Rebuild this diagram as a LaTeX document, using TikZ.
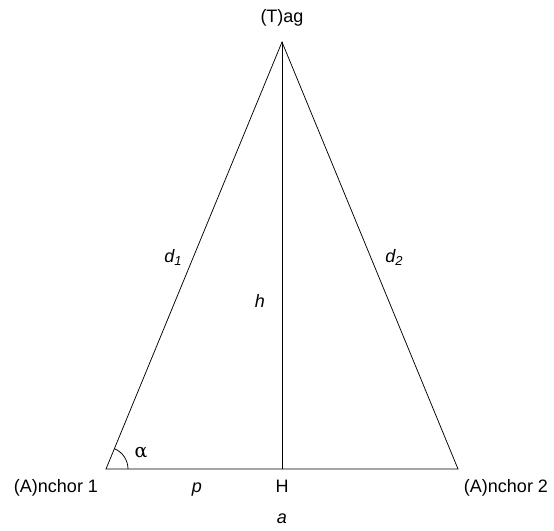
\documentclass[tikz,border=0pt]{standalone}
\usepackage{fontspec}
\setmainfont{Liberation Sans}
\newfontfamily\grfont{DejaVu Serif}
\begin{document}
\begin{tikzpicture}[x=1pt,y=-1pt,
  lbl/.style={inner sep=0pt,anchor=base,font=\fontsize{18}{20}\selectfont},
  edge/.style={draw=black,line width=0.75pt}]
\useasboundingbox (0,0) rectangle (554,530);
\coordinate (T) at (282,42);
\coordinate (A1) at (106,469);
\coordinate (A2) at (458,469);
\coordinate (H) at (282,469);
\draw[edge] (A1) -- (T) -- (A2) -- cycle;
\draw[edge] (T) -- (H);
\draw[edge] ([xshift=22pt]A1) arc[start angle=0,end angle=67.5,radius=22pt];
\node[lbl] (tl) at (282,22) {(T)ag};
\node[lbl] (a1l) at (56,492.5) {(A)nchor 1};
\node[lbl] (a2l) at (506,492.5) {(A)nchor 2};
\node[lbl] (hl) at (282,492.5) {H};
\node[lbl] (pl) at (197,492.5) {\textit{p}};
\node[lbl] (al) at (282,523) {\textit{a}};
\node[lbl] (d1l) at (173,262) {\textit{d\raisebox{-0.35ex}{\fontsize{13}{13}\selectfont 1}}};
\node[lbl] (d2l) at (394,262) {\textit{d\raisebox{-0.35ex}{\fontsize{13}{13}\selectfont 2}}};
\node[lbl] (hh) at (260,307) {\textit{h}};
\node[lbl,font=\fontsize{19}{20}\selectfont] (alpha) at (141,457) {\grfont α};
\end{tikzpicture}
\end{document}
